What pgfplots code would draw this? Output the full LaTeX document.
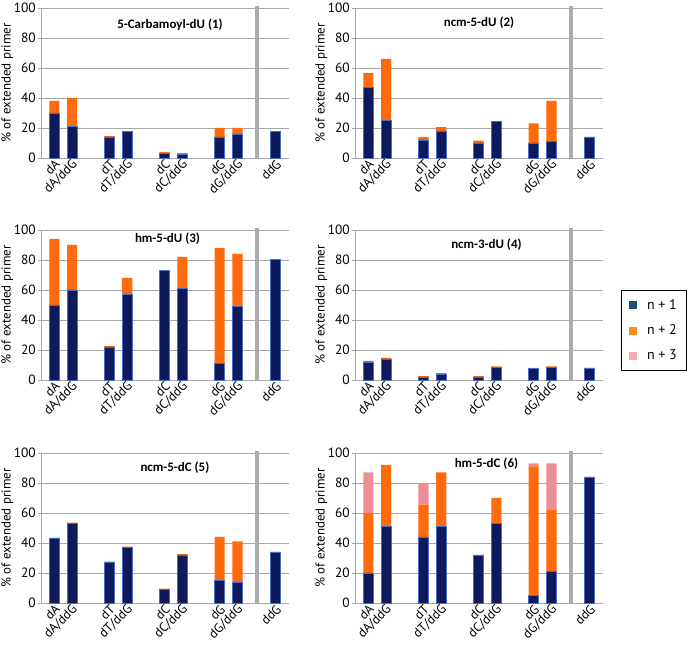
\documentclass[border=0pt]{standalone}
\usepackage{pgfplots}
\pgfplotsset{compat=1.18}
\usepackage{pgfplotstable}
\usepackage{fontspec}
\setmainfont{PT Sans}
\newfontfamily\titlefont{Carlito}
\definecolor{navy}{HTML}{0E1A5C}
\definecolor{navyedge}{HTML}{4B6CC4}
\definecolor{orng}{HTML}{FF6A0D}
\definecolor{pnk}{HTML}{EE8E96}
\definecolor{gridgray}{HTML}{A8A8A8}
\definecolor{lgA}{HTML}{1B4F7C}
\definecolor{lgB}{HTML}{FF8C1A}
\definecolor{lgC}{HTML}{F4AAB0}

\pgfplotstableread{
x a b c
0 30 8 0
1 21 19 0
3.1 14 0.5 0
4.1 17.5 0 0
6.2 3 1 0
7.2 2.5 0.7 0
9.3 14 6 0
10.3 16 4 0
12.45 17.5 0 0
}\tA
\pgfplotstableread{
x a b c
0 47 9.5 0
1 25 41 0
3.1 12 2 0
4.1 18 2.5 0
6.2 10 1.5 0
7.2 24.5 0 0
9.3 10 13 0
10.3 11 27 0
12.45 14 0 0
}\tB
\pgfplotstableread{
x a b c
0 50 44 0
1 60 30 0
3.1 22 0.5 0
4.1 57 11 0
6.2 73 0 0
7.2 61 21 0
9.3 11 77 0
10.3 49 35 0
12.45 80.5 0 0
}\tC
\pgfplotstableread{
x a b c
0 12 0.8 0
1 14 0.8 0
3.1 2 0.5 0
4.1 4 0.5 0
6.2 2 0.5 0
7.2 8.5 0.5 0
9.3 7.5 0.5 0
10.3 8.5 0.5 0
12.45 8 0 0
}\tD
\pgfplotstableread{
x a b c
0 43 0.5 0
1 53 0.5 0
3.1 27 0.5 0
4.1 37 0.5 0
6.2 9 0.5 0
7.2 32 0.5 0
9.3 15 29 0
10.3 14 27 0
12.45 34 0 0
}\tE
\pgfplotstableread{
x a b c
0 20 40 27
1 51 41 0
3.1 44 21.5 14.5
4.1 51 36 0
6.2 32 0 0
7.2 53 17 0
9.3 5 86 2
10.3 21 41 31
12.45 84 0 0
}\tF

\tikzset{
 sepbar/.style={draw=gray!65, line width=4.5bp},
 ttl/.style={font=\titlefont\bfseries\fontsize{13}{13}\selectfont},
}
\pgfplotsset{
 panel/.style={
  scale only axis, width=248bp, height=150bp,
  ymin=0, ymax=100, ytick={0,20,...,100},
  xmin=-0.75, xmax=13.2,
  ybar stacked, bar width=0.57,
  axis x line=bottom, axis y line=left,
  axis line style={gridgray, line width=0.9bp, -},
  ymajorgrids, grid style={gridgray, line width=0.9bp},
  xtick={0,1,3.1,4.1,6.2,7.2,9.3,10.3,12.45},
  xticklabels={dA,dA/ddG,dT,dT/ddG,dC,dC/ddG,dG,dG/ddG,ddG},
  x tick label style={rotate=45, anchor=east, font=\fontsize{13}{13}\selectfont, inner sep=0.5bp, yshift=-3bp, xshift=2bp},
  y tick label style={font=\fontsize{13.5}{13.5}\selectfont, inner xsep=2bp},
  major x tick style={draw=none},
  tick align=outside,
  ytick style={gridgray, line width=0.9bp},
  major tick length=3bp,
  extra x ticks={-0.75,2.05,5.15,8.25,11.4,13.2},
  extra x tick labels={},
  extra x tick style={major tick length=4bp, tick style={draw=gridgray, line width=0.9bp}, grid=none},
  ylabel={\% of extended primer},
  ylabel style={font=\fontsize{13}{13}\selectfont, yshift=-5bp},
  /pgf/number format/assume math mode=true,
  clip=false,
 },
 sA/.style={fill=navy, draw=navyedge, line width=0.6bp},
 sB/.style={fill=orng, draw=none},
 sC/.style={fill=pnk, draw=none},
}

\begin{document}
\begin{tikzpicture}
\useasboundingbox (0,0) rectangle (700bp,651bp);

% Panel 1
\begin{axis}[panel, at={(41bp,493bp)}, anchor=south west]
\addplot[sA] table[x=x,y=a]{\tA};
\addplot[sB] table[x=x,y=b]{\tA};
\addplot[sC] table[x=x,y=c]{\tA};
\draw[sepbar] (axis cs:11.4,0) -- (axis cs:11.4,101);
\node[ttl] at (rel axis cs:0.52,0.89) {5-Carbamoyl-dU (1)};
\end{axis}

% Panel 2
\begin{axis}[panel, at={(355bp,493bp)}, anchor=south west]
\addplot[sA] table[x=x,y=a]{\tB};
\addplot[sB] table[x=x,y=b]{\tB};
\addplot[sC] table[x=x,y=c]{\tB};
\draw[sepbar] (axis cs:11.4,0) -- (axis cs:11.4,101);
\node[ttl] at (rel axis cs:0.5,0.9) {ncm-5-dU (2)};
\end{axis}

% Panel 3
\begin{axis}[panel, at={(41bp,271bp)}, anchor=south west]
\addplot[sA] table[x=x,y=a]{\tC};
\addplot[sB] table[x=x,y=b]{\tC};
\addplot[sC] table[x=x,y=c]{\tC};
\draw[sepbar] (axis cs:11.4,0) -- (axis cs:11.4,101);
\node[ttl] at (rel axis cs:0.51,0.94) {hm-5-dU (3)};
\end{axis}

% Panel 4
\begin{axis}[panel, at={(355bp,271bp)}, anchor=south west,
  legend style={at={(1.073,0.6)}, anchor=north west, draw=black, line width=0.6bp,
    font=\fontsize{14}{14}\selectfont, row sep=10bp, column sep=8bp, inner xsep=8bp, inner ysep=7bp},
  legend cell align=left]
\addplot[sA, forget plot] table[x=x,y=a]{\tD};
\addplot[sB, forget plot] table[x=x,y=b]{\tD};
\addplot[sC, forget plot] table[x=x,y=c]{\tD};
\draw[sepbar] (axis cs:11.4,0) -- (axis cs:11.4,101);
\node[ttl] at (rel axis cs:0.53,0.9) {ncm-3-dU (4)};
\addlegendimage{legend image code/.code={\fill[lgA] (0bp,-3.5bp) rectangle (7bp,3.5bp);}}
\addlegendentry{n + 1}
\addlegendimage{legend image code/.code={\fill[lgB] (0bp,-3.5bp) rectangle (7bp,3.5bp);}}
\addlegendentry{n + 2}
\addlegendimage{legend image code/.code={\fill[lgC] (0bp,-3.5bp) rectangle (7bp,3.5bp);}}
\addlegendentry{n + 3}
\end{axis}

% Panel 5
\begin{axis}[panel, at={(41bp,48bp)}, anchor=south west]
\addplot[sA] table[x=x,y=a]{\tE};
\addplot[sB] table[x=x,y=b]{\tE};
\addplot[sC] table[x=x,y=c]{\tE};
\draw[sepbar] (axis cs:11.4,0) -- (axis cs:11.4,101);
\node[ttl] at (rel axis cs:0.54,0.9) {ncm-5-dC (5)};
\end{axis}

% Panel 6
\begin{axis}[panel, at={(355bp,48bp)}, anchor=south west]
\addplot[sA] table[x=x,y=a]{\tF};
\addplot[sB] table[x=x,y=b]{\tF};
\addplot[sC] table[x=x,y=c]{\tF};
\draw[sepbar] (axis cs:11.4,0) -- (axis cs:11.4,101);
\node[ttl] at (rel axis cs:0.53,0.93) {hm-5-dC (6)};
\end{axis}
\end{tikzpicture}
\end{document}
